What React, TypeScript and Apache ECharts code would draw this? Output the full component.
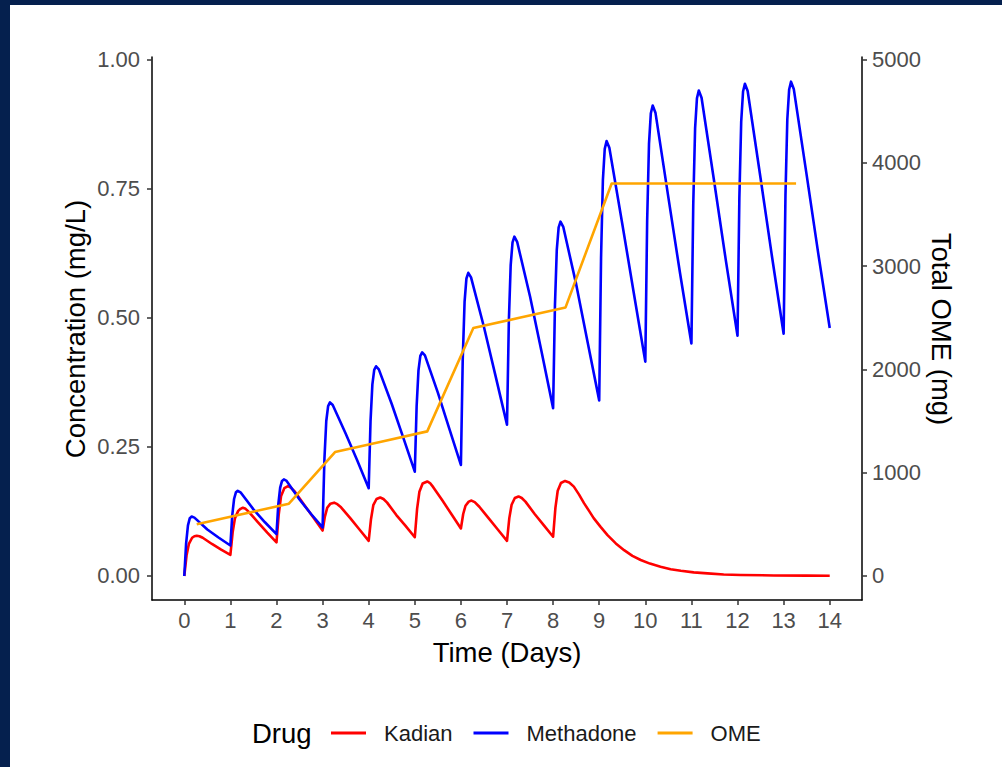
import React, { useEffect, useRef } from "react";
import * as echarts from "echarts";

// ---- Data ----
const dayTicks = [0, 1, 2, 3, 4, 5, 6, 7, 8, 9, 10, 11, 12, 13, 14];
const concTicks = [0, 0.25, 0.5, 0.75, 1.0];
const omeTicks = [0, 1000, 2000, 3000, 4000, 5000];
const legendNames = ["Kadian", "Methadone", "OME"];

// Kadian concentration (mg/L): [time (days), value]
const kadian: [number, number][] = [
  [0, 0.0], [0.05, 0.04], [0.1, 0.062], [0.17, 0.074], [0.22, 0.077], [0.27, 0.078], [0.33, 0.077], [0.4, 0.074], [0.6, 0.062], [0.8, 0.051],
  [1.0, 0.041], [1.05, 0.085], [1.1, 0.112], [1.17, 0.126], [1.22, 0.130], [1.27, 0.132], [1.33, 0.130], [1.4, 0.124], [1.6, 0.104], [1.8, 0.084],
  [2.0, 0.065], [2.05, 0.12], [2.1, 0.155], [2.17, 0.17], [2.25, 0.174], [2.31, 0.171], [2.4, 0.163], [2.6, 0.138], [2.8, 0.113],
  [3.0, 0.088], [3.05, 0.115], [3.1, 0.132], [3.17, 0.14], [3.25, 0.142], [3.32, 0.139], [3.4, 0.133], [3.6, 0.112], [3.8, 0.09],
  [4.0, 0.068], [4.05, 0.11], [4.1, 0.137], [4.17, 0.149], [4.25, 0.152], [4.32, 0.149], [4.4, 0.142], [4.6, 0.118], [4.8, 0.097],
  [5.0, 0.075], [5.05, 0.13], [5.1, 0.163], [5.17, 0.179], [5.27, 0.183], [5.33, 0.180], [5.4, 0.172], [5.6, 0.146], [5.8, 0.119],
  [6.0, 0.092], [6.05, 0.12], [6.1, 0.136], [6.17, 0.144], [6.23, 0.146], [6.3, 0.143], [6.4, 0.134], [6.6, 0.112], [6.8, 0.09],
  [7.0, 0.068], [7.05, 0.112], [7.1, 0.138], [7.17, 0.151], [7.25, 0.154], [7.32, 0.151], [7.4, 0.144], [7.6, 0.12], [7.8, 0.098],
  [8.0, 0.076], [8.05, 0.132], [8.1, 0.165], [8.17, 0.18], [8.26, 0.184], [8.35, 0.181], [8.45, 0.173], [8.56, 0.158], [8.67, 0.141],
  [8.78, 0.126], [8.88, 0.112], [9.03, 0.095], [9.18, 0.079], [9.36, 0.063], [9.54, 0.05], [9.72, 0.039], [9.9, 0.031],
  [10.1, 0.024], [10.33, 0.018], [10.55, 0.013], [10.77, 0.01], [11.05, 0.007], [11.35, 0.005], [11.7, 0.003], [12.07, 0.002],
  [12.79, 0.001], [13.5, 0.0006], [14.0, 0.0005],
];

// Methadone concentration (mg/L): [time (days), value]
const methadone: [number, number][] = [
  [0, 0.0], [0.04, 0.063], [0.08, 0.098], [0.12, 0.112], [0.16, 0.115], [0.22, 0.113], [0.5, 0.09], [0.75, 0.074],
  [1, 0.059], [1.04, 0.117], [1.08, 0.149], [1.12, 0.162], [1.16, 0.165], [1.22, 0.162], [1.5, 0.129], [1.75, 0.104],
  [2, 0.081], [2.04, 0.139], [2.08, 0.171], [2.12, 0.184], [2.16, 0.187], [2.22, 0.184], [2.5, 0.148], [2.75, 0.12],
  [3, 0.094], [3.04, 0.227], [3.08, 0.3], [3.12, 0.329], [3.16, 0.336], [3.22, 0.331], [3.5, 0.276], [3.75, 0.224],
  [4, 0.17], [4.04, 0.3], [4.08, 0.371], [4.12, 0.399], [4.16, 0.406], [4.22, 0.4], [4.5, 0.333], [4.75, 0.268],
  [5, 0.202], [5.04, 0.329], [5.08, 0.398], [5.12, 0.426], [5.16, 0.433], [5.22, 0.427], [5.5, 0.355], [5.75, 0.285],
  [6, 0.215], [6.04, 0.42], [6.08, 0.531], [6.12, 0.576], [6.16, 0.587], [6.22, 0.578], [6.5, 0.482], [6.75, 0.388],
  [7, 0.293], [7.04, 0.493], [7.08, 0.602], [7.12, 0.646], [7.16, 0.657], [7.22, 0.647], [7.5, 0.541], [7.75, 0.434],
  [8, 0.325], [8.04, 0.524], [8.08, 0.632], [8.12, 0.675], [8.16, 0.686], [8.22, 0.676], [8.5, 0.565], [8.75, 0.452],
  [9, 0.34], [9.04, 0.616], [9.08, 0.767], [9.12, 0.827], [9.16, 0.842], [9.22, 0.829], [9.5, 0.682], [9.75, 0.548],
  [10, 0.415], [10.04, 0.688], [10.08, 0.837], [10.12, 0.896], [10.16, 0.911], [10.22, 0.897], [10.5, 0.733], [10.75, 0.588],
  [11, 0.45], [11.04, 0.72], [11.08, 0.867], [11.12, 0.925], [11.16, 0.94], [11.22, 0.926], [11.5, 0.76], [11.75, 0.609],
  [12, 0.465], [12.04, 0.733], [12.08, 0.88], [12.12, 0.938], [12.16, 0.953], [12.22, 0.939], [12.5, 0.77], [12.75, 0.617],
  [13, 0.469], [13.04, 0.737], [13.08, 0.884], [13.12, 0.942], [13.16, 0.957], [13.22, 0.943], [13.5, 0.776], [13.75, 0.625],
  [14, 0.48],
];

// Total OME (mg), right axis
const omeDays = [0.27, 1.27, 2.27, 3.27, 4.27, 5.27, 6.27, 7.27, 8.27, 9.27, 10.27, 11.27, 12.27, 13.27];
const omeTotal = [500, 600, 700, 1200, 1300, 1400, 2400, 2500, 2600, 3800, 3800, 3800, 3800, 3800];

// ---- Style ----
const FONT = "'Liberation Sans', Arial, Helvetica, sans-serif";
const NAVY = "#05204e";
const OX = 10; // white panel offset in page
const OY = 5;

export default function App() {
  const ref = useRef<HTMLDivElement>(null);

  useEffect(() => {
    if (!ref.current) return;
    const chart = echarts.init(ref.current, null, { renderer: "svg" });

    const axisLine = { show: true, onZero: false, lineStyle: { color: "#000", width: 1.5 } };
    const axisTick = (vals: number[]) => ({
      show: true,
      length: 5,
      customValues: vals,
      lineStyle: { color: "#333", width: 1.5 },
    });
    const labelBase = { fontSize: 22, color: "#4d4d4d", fontFamily: FONT };

    const option: any = {
      animation: false,
      backgroundColor: "#ffffff",
      grid: { left: 152 - OX, right: 992 - (862 - OX), top: 57 - OY, bottom: 762 - (600 - OY), containLabel: false },
      xAxis: {
        type: "value",
        min: -0.7,
        max: 14.7,
        axisLine,
        axisTick: axisTick(dayTicks),
        axisLabel: { ...labelBase, customValues: dayTicks, margin: 9, formatter: (v: number) => String(v) },
        splitLine: { show: false },
      },
      yAxis: [
        {
          type: "value",
          position: "left",
          min: -0.0465,
          max: 1.0048,
          axisLine,
          axisTick: axisTick(concTicks),
          axisLabel: { ...labelBase, customValues: concTicks, margin: 12, formatter: (v: number) => v.toFixed(2) },
          splitLine: { show: false },
        },
        {
          type: "value",
          position: "right",
          min: -232.5,
          max: 5024,
          axisLine,
          axisTick: axisTick(omeTicks),
          axisLabel: { ...labelBase, customValues: omeTicks, margin: 10, formatter: (v: number) => String(v) },
          splitLine: { show: false },
        },
      ],
      legend: {
        data: legendNames,
        left: 331 - OX,
        top: 722 - OY,
        padding: 0,
        itemGap: 21,
        itemWidth: 35,
        itemHeight: 3,
        icon: "rect",
        textStyle: { fontSize: 22, color: "#1a1a1a", fontFamily: FONT, padding: [0, 0, 0, 13], lineHeight: 22 },
      },
      graphic: [
        {
          type: "text",
          x: 507 - OX,
          y: 652 - OY,
          style: { text: "Time (Days)", fontSize: 27.5, fontFamily: FONT, fill: "#000", align: "center", verticalAlign: "middle" },
        },
        {
          type: "text",
          x: 75 - OX,
          y: 329 - OY,
          rotation: Math.PI / 2,
          style: { text: "Concentration (mg/L)", fontSize: 27.5, fontFamily: FONT, fill: "#000", align: "center", verticalAlign: "middle" },
        },
        {
          type: "text",
          x: 941 - OX,
          y: 329 - OY,
          rotation: -Math.PI / 2,
          style: { text: "Total OME (mg)", fontSize: 27.5, fontFamily: FONT, fill: "#000", align: "center", verticalAlign: "middle" },
        },
        {
          type: "text",
          x: 252 - OX,
          y: 733 - OY,
          style: { text: "Drug", fontSize: 27.5, fontFamily: FONT, fill: "#000", align: "left", verticalAlign: "middle" },
        },
      ],
      series: [
        {
          name: "Kadian",
          type: "line",
          xAxisIndex: 0,
          yAxisIndex: 0,
          data: kadian,
          showSymbol: false,
          symbol: "none",
          color: "#ff0000",
          lineStyle: { color: "#ff0000", width: 2.6, join: "round" },
        },
        {
          name: "Methadone",
          type: "line",
          xAxisIndex: 0,
          yAxisIndex: 0,
          data: methadone,
          showSymbol: false,
          symbol: "none",
          color: "#0000ff",
          lineStyle: { color: "#0000ff", width: 2.6, join: "round" },
        },
        {
          name: "OME",
          type: "line",
          xAxisIndex: 0,
          yAxisIndex: 1,
          data: omeDays.map((d, i) => [d, omeTotal[i]]),
          showSymbol: false,
          symbol: "none",
          color: "#ffa500",
          lineStyle: { color: "#ffa500", width: 2.6, join: "round" },
        },
      ],
    };

    chart.setOption(option);
    return () => chart.dispose();
  }, []);

  return (
    <div style={{ position: "fixed", left: 0, top: 0, width: 1002, height: 767, background: NAVY }}>
      <div
        ref={ref}
        style={{ position: "absolute", left: OX, top: OY, width: 1002 - OX, height: 767 - OY, background: "#fff" }}
      />
    </div>
  );
}
